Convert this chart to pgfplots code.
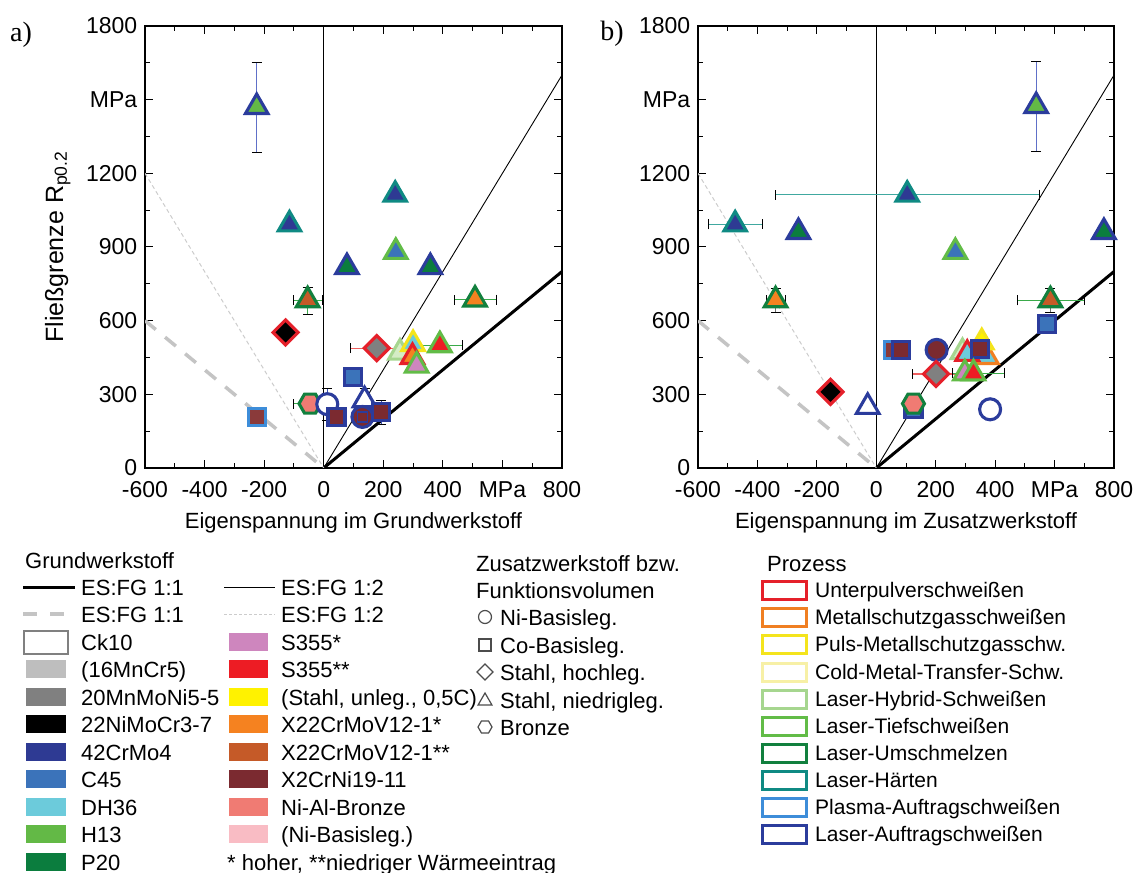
\documentclass[border=0pt]{standalone}
\usepackage{fontspec}
\setmainfont{Liberation Sans}
\newfontfamily\serifa{Liberation Serif}
\usepackage{pgfplots}
\pgfplotsset{compat=1.18}
\newcommand{\fz}{\fontsize{22bp}{26bp}\selectfont}
\newcommand{\ft}{\fontsize{23bp}{27bp}\selectfont}
\newcommand{\fp}{\fontsize{21bp}{24bp}\selectfont}
% base materials
\definecolor{cH13}{HTML}{63B946}
\definecolor{c42Cr}{HTML}{2E3A93}
\definecolor{cC45}{HTML}{3B73BA}
\definecolor{cDH36}{HTML}{6CCBDB}
\definecolor{cP20}{HTML}{0B7D3E}
\definecolor{cS355a}{HTML}{CE86BE}
\definecolor{cS355b}{HTML}{ED1C24}
\definecolor{cStahl}{HTML}{FFF200}
\definecolor{cX22a}{HTML}{F58220}
\definecolor{cX22b}{HTML}{C55A28}
\definecolor{cX2Cr}{HTML}{7B2A30}
\definecolor{cX2Crl}{HTML}{8A3A3A}
\definecolor{cNiAl}{HTML}{F07B73}
\definecolor{cNiB}{HTML}{F9BCC4}
\definecolor{c16Mn}{HTML}{BEBEBE}
\definecolor{c20Mn}{HTML}{808080}
\definecolor{c22Ni}{HTML}{000000}
\definecolor{cHybFill}{HTML}{D5ECC5}
% processes
\definecolor{pUP}{HTML}{E5202A}
\definecolor{pMSG}{HTML}{F07F22}
\definecolor{pPuls}{HTML}{F4E41C}
\definecolor{pCMT}{HTML}{F7F0A6}
\definecolor{pHyb}{HTML}{A6D68F}
\definecolor{pTief}{HTML}{62BC47}
\definecolor{pUm}{HTML}{12803E}
\definecolor{pHaert}{HTML}{0F8A83}
\definecolor{pPlas}{HTML}{3D8DD9}
\definecolor{pLAuf}{HTML}{2B3C9C}
% error bars / lines
\definecolor{eBlue}{HTML}{6070C8}
\definecolor{eBlue2}{HTML}{3A4FB0}
\definecolor{eTeal}{HTML}{40A8A0}
\definecolor{eGreen}{HTML}{3AAA4A}
\definecolor{eRed}{HTML}{F06060}
\definecolor{eGray}{HTML}{707070}
\definecolor{cDash}{HTML}{C4C4C4}
\definecolor{cDot}{HTML}{CCCCCC}

\pgfdeclareplotmark{hexagon*}{%
 \pgfpathmoveto{\pgfqpoint{\pgfplotmarksize}{0pt}}%
 \pgfpathlineto{\pgfqpoint{0.5\pgfplotmarksize}{0.866\pgfplotmarksize}}%
 \pgfpathlineto{\pgfqpoint{-0.5\pgfplotmarksize}{0.866\pgfplotmarksize}}%
 \pgfpathlineto{\pgfqpoint{-\pgfplotmarksize}{0pt}}%
 \pgfpathlineto{\pgfqpoint{-0.5\pgfplotmarksize}{-0.866\pgfplotmarksize}}%
 \pgfpathlineto{\pgfqpoint{0.5\pgfplotmarksize}{-0.866\pgfplotmarksize}}%
 \pgfpathclose\pgfusepathqfillstroke}
\pgfdeclareplotmark{dia*}{%
 \pgfpathmoveto{\pgfqpoint{0pt}{\pgfplotmarksize}}%
 \pgfpathlineto{\pgfqpoint{\pgfplotmarksize}{0pt}}%
 \pgfpathlineto{\pgfqpoint{0pt}{-\pgfplotmarksize}}%
 \pgfpathlineto{\pgfqpoint{-\pgfplotmarksize}{0pt}}%
 \pgfpathclose\pgfusepathqfillstroke}

\pgfplotsset{
  panel/.style={height=442bp, scale only axis,
    xmin=-600, xmax=800, ymin=0, ymax=1800,
    xtick={-600,-400,-200,0,200,400,600,800},
    xticklabels={-600,-400,-200,0,200,400,MPa,800},
    ytick={0,300,600,900,1200,1500,1800},
    yticklabels={0,300,600,900,1200,MPa,1800},
    minor x tick num=1, minor y tick num=1,
    tick align=inside, major tick length=8bp, minor tick length=5bp,
    every tick/.style={black, line width=1bp},
    axis line style={line width=1.2bp},
    tick label style={font=\ft, inner sep=1bp},
    xticklabel style={yshift=-12.5bp},
    yticklabel style={xshift=-6.6bp},
    label style={font=\fz},
    xlabel style={at={(axis description cs:0.5,-0.124)}, anchor=center},
    ylabel style={at={(axis description cs:-0.209,0.5)}, anchor=center, font=\fontsize{25bp}{28bp}\selectfont},
  },
  mk/.style 2 args={only marks, mark options={draw=#1, fill=#2, line width=3.1bp, solid}},
  tri/.style={mark=triangle*, mark size=13bp},
  sq/.style={mark=square*, mark size=8.5bp},
  dia/.style={mark=dia*, mark size=12.5bp},
  circ/.style={mark=*, mark size=10.5bp},
  hex/.style={mark=hexagon*, mark size=11bp},
  ebx/.style={only marks, mark=none, forget plot, error bars/.cd, x dir=both, x explicit,
    error bar style={line width=1.3bp, draw=#1, mark size=5bp}},
  eby/.style={only marks, mark=none, forget plot, error bars/.cd, y dir=both, y explicit,
    error bar style={line width=1.3bp, draw=#1, mark size=5bp}},
}

\begin{document}
\begin{tikzpicture}[x=1bp,y=1bp]
\useasboundingbox (0,0) rectangle (1136,873);

% ---------------- panel a ----------------
\begin{axis}[panel, width=417bp, at={(145bp,405bp)}, anchor=south west,
  xlabel={Eigenspannung im Grundwerkstoff},
  ylabel={Flie\ss grenze R\textsubscript{p0.2}}]
\addplot[black, line width=1bp] coordinates {(0,0) (0,1800)};
\addplot[black, line width=3bp] coordinates {(0,0) (800,800)};
\addplot[black, line width=0.9bp] coordinates {(0,0) (800,1600)};
\addplot[cDash, line width=3.5bp, dash pattern=on 14bp off 12bp] coordinates {(-600,600) (0,0)};
\addplot[cDot, line width=1bp, dash pattern=on 4bp off 3bp] coordinates {(-600,1200) (0,0)};
% error bars
\addplot[eby=eBlue] coordinates {(-225,1470) +- (0,182)};
\addplot[ebx=eTeal] coordinates {(-115,992) +- (20,0)};
\addplot[eby=eTeal] coordinates {(240,1113) +- (0,20)};
\addplot[eby=black] coordinates {(78,818) +- (0,30)};
\addplot[eby=black] coordinates {(358,818) +- (0,30)};
\addplot[ebx=eGreen] coordinates {(-54,683) +- (50,0)};
\addplot[eby=eGreen] coordinates {(-54,683) +- (0,55)};
\addplot[ebx=eGreen] coordinates {(508,686) +- (71,0)};
\addplot[eby=eGray] coordinates {(508,686) +- (0,28)};
\addplot[ebx=eRed] coordinates {(178,488) +- (90,0)};
\addplot[ebx=eGreen] coordinates {(390,500) +- (75,0)};
\addplot[ebx=black] coordinates {(276,470) +- (35,0)};
\addplot[eby=black] coordinates {(276,470) +- (0,22)};
\addplot[ebx=eGreen] coordinates {(-46,262) +- (55,0)};
\addplot[eby=eBlue2] coordinates {(12,260) +- (0,64)};
\addplot[eby=eBlue2] coordinates {(137,276) +- (0,48)};
\addplot[eby=eBlue2] coordinates {(193,228) +- (0,50)};
% markers
\addplot[mk={pLAuf}{cH13}, tri] coordinates {(-225,1470)};
\addplot[mk={pHaert}{c42Cr}, tri] coordinates {(-115,992)};
\addplot[mk={pHaert}{c42Cr}, tri] coordinates {(240,1113)};
\addplot[mk={pTief}{cC45}, tri] coordinates {(242,880)};
\addplot[mk={pLAuf}{cP20}, tri] coordinates {(78,818)};
\addplot[mk={pLAuf}{cP20}, tri] coordinates {(358,818)};
\addplot[mk={pUm}{cX22b}, tri] coordinates {(-54,683)};
\addplot[mk={pUP}{c22Ni}, dia] coordinates {(-128,552)};
\addplot[mk={pUm}{cX22a}, tri] coordinates {(508,686)};
\addplot[mk={pUP}{c20Mn}, dia] coordinates {(178,488)};
\addplot[mk={pTief}{cS355b}, tri] coordinates {(390,500)};
\addplot[mk={pHyb}{cHybFill}, tri] coordinates {(256,470)};
\addplot[mk={pPuls}{cDH36}, tri] coordinates {(300,505)};
\addplot[mk={pUP}{cX22a}, tri] coordinates {(298,452)};
\addplot[mk={pTief}{cS355a}, tri] coordinates {(312,417)};
\addplot[mk={pLAuf}{cC45}, sq] coordinates {(99,372)};
\addplot[mk={pUm}{cNiAl}, hex] coordinates {(-46,262)};
\addplot[mk={pLAuf}{white}, circ] coordinates {(12,260)};
\addplot[mk={pPlas}{cX2Crl}, sq] coordinates {(-224,208)};
\addplot[mk={pLAuf}{cX2Cr}, sq] coordinates {(43,208)};
\addplot[mk={pLAuf}{white}, tri] coordinates {(137,276)};
\addplot[mk={pLAuf}{cX2Cr}, circ] coordinates {(130,208)};
\addplot[only marks, mark=square*, mark size=5bp, mark options={draw=pLAuf, fill=cX2Cr, line width=1.5bp}] coordinates {(130,208)};
\addplot[mk={pLAuf}{cX2Cr}, sq] coordinates {(193,228)};
\end{axis}

% ---------------- panel b ----------------
\begin{axis}[panel, width=416bp, at={(698bp,405bp)}, anchor=south west,
  xlabel={Eigenspannung im Zusatzwerkstoff}]
\addplot[black, line width=1bp] coordinates {(0,0) (0,1800)};
\addplot[black, line width=3bp] coordinates {(0,0) (800,800)};
\addplot[black, line width=0.9bp] coordinates {(0,0) (800,1600)};
\addplot[cDash, line width=3.5bp, dash pattern=on 14bp off 12bp] coordinates {(-600,600) (0,0)};
\addplot[cDot, line width=1bp, dash pattern=on 4bp off 3bp] coordinates {(-600,1200) (0,0)};
% error bars
\addplot[eby=eBlue] coordinates {(538,1474) +- (0,182)};
\addplot[ebx=eTeal] coordinates {(104,1113) +- (445,0)};
\addplot[ebx=eTeal] coordinates {(-475,992) +- (92,0)};
\addplot[ebx=eGreen] coordinates {(-339,683) +- (32,0)};
\addplot[eby=eGray] coordinates {(-339,683) +- (0,50)};
\addplot[ebx=eGreen] coordinates {(586,683) +- (112,0)};
\addplot[eby=eGray] coordinates {(586,683) +- (0,50)};
\addplot[ebx=eRed] coordinates {(201,383) +- (80,0)};
\addplot[ebx=black] coordinates {(330,475) +- (35,0)};
\addplot[eby=black] coordinates {(330,475) +- (0,25)};
\addplot[ebx=eGreen] coordinates {(344,385) +- (88,0)};
\addplot[ebx=eGreen] coordinates {(125,262) +- (18,0)};
% markers
\addplot[mk={pLAuf}{cH13}, tri] coordinates {(538,1474)};
\addplot[mk={pHaert}{c42Cr}, tri] coordinates {(104,1113)};
\addplot[mk={pHaert}{c42Cr}, tri] coordinates {(-475,992)};
\addplot[mk={pLAuf}{cP20}, tri] coordinates {(-262,961)};
\addplot[mk={pLAuf}{cP20}, tri] coordinates {(766,961)};
\addplot[mk={pTief}{cC45}, tri] coordinates {(266,880)};
\addplot[mk={pUm}{cX22a}, tri] coordinates {(-339,683)};
\addplot[mk={pUm}{cX22b}, tri] coordinates {(586,683)};
\addplot[mk={pLAuf}{cC45}, sq] coordinates {(574,588)};
\addplot[mk={pUP}{c22Ni}, dia] coordinates {(-154,310)};
\addplot[mk={pLAuf}{white}, tri] coordinates {(-29,249)};
\addplot[mk={pLAuf}{cC45}, sq] coordinates {(125,240)};
\addplot[mk={pUm}{cNiAl}, hex] coordinates {(125,262)};
\addplot[mk={pLAuf}{white}, circ] coordinates {(383,239)};
\addplot[mk={pPlas}{cX2Crl}, sq] coordinates {(56,481)};
\addplot[mk={pLAuf}{cX2Cr}, sq] coordinates {(84,481)};
\addplot[mk={pLAuf}{cX2Cr}, circ] coordinates {(203,481)};
\addplot[mk={pUP}{c20Mn}, dia] coordinates {(201,383)};
\addplot[mk={pHyb}{cHybFill}, tri] coordinates {(290,472)};
\addplot[mk={pMSG}{cDH36}, tri] coordinates {(372,452)};
\addplot[mk={pPuls}{cStahl}, tri] coordinates {(355,512)};
\addplot[mk={pUP}{cDH36}, tri] coordinates {(306,465)};
\addplot[mk={pLAuf}{cX2Cr}, sq] coordinates {(348,485)};
\addplot[mk={pTief}{cS355a}, tri] coordinates {(298,385)};
\addplot[mk={pTief}{cS355b}, tri] coordinates {(327,385)};
\end{axis}

\node[font=\serifa\fontsize{28bp}{30bp}\selectfont] at (21,838) {a)};
\node[font=\serifa\fontsize{28bp}{30bp}\selectfont] at (612,839) {b)};

% ---------------- legends ----------------
\begin{axis}[at={(0bp,0bp)}, anchor=south west, width=1136bp, height=873bp, scale only axis,
  xmin=0, xmax=1136, ymin=0, ymax=873, y dir=reverse, hide axis, clip=false]
% column 1: Grundwerkstoff
\node[anchor=base west, inner sep=0pt, font=\fz] at (axis cs:25,568) {Grundwerkstoff};
\addplot[black, line width=3bp] coordinates {(23,587) (75,587)};
\addplot[black, line width=1bp] coordinates {(224,587) (275,587)};
\addplot[cDash, line width=3.5bp, dash pattern=on 14bp off 13bp] coordinates {(23,614) (66,614)};
\addplot[cDot, line width=1bp, dash pattern=on 3bp off 2bp] coordinates {(224,614) (275,614)};
\addplot[draw=gray, line width=1.5bp, fill=white] coordinates {(24,631) (68,631) (68,654) (24,654)} -- cycle;
\addplot[fill=c16Mn, draw=none] coordinates {(26,660) (66,660) (66,678) (26,678)};
\addplot[fill=c20Mn, draw=none] coordinates {(26,688) (66,688) (66,706) (26,706)};
\addplot[fill=c22Ni, draw=none] coordinates {(26,715) (66,715) (66,733) (26,733)};
\addplot[fill=c42Cr, draw=none] coordinates {(26,743) (66,743) (66,761) (26,761)};
\addplot[fill=cC45, draw=none] coordinates {(26,770) (66,770) (66,788) (26,788)};
\addplot[fill=cDH36, draw=none] coordinates {(26,798) (66,798) (66,816) (26,816)};
\addplot[fill=cH13, draw=none] coordinates {(26,825) (66,825) (66,843) (26,843)};
\addplot[fill=cP20, draw=none] coordinates {(26,853) (66,853) (66,871) (26,871)};
\addplot[fill=cS355a, draw=none] coordinates {(229,633) (268,633) (268,651) (229,651)};
\addplot[fill=cS355b, draw=none] coordinates {(229,660) (268,660) (268,678) (229,678)};
\addplot[fill=cStahl, draw=none] coordinates {(229,688) (268,688) (268,706) (229,706)};
\addplot[fill=cX22a, draw=none] coordinates {(229,715) (268,715) (268,733) (229,733)};
\addplot[fill=cX22b, draw=none] coordinates {(229,743) (268,743) (268,761) (229,761)};
\addplot[fill=cX2Cr, draw=none] coordinates {(229,770) (268,770) (268,788) (229,788)};
\addplot[fill=cNiAl, draw=none] coordinates {(229,798) (268,798) (268,816) (229,816)};
\addplot[fill=cNiB, draw=none] coordinates {(229,825) (268,825) (268,843) (229,843)};
\begin{scope}[every node/.style={anchor=base west, inner sep=0pt, font=\fz}]
\node at (axis cs:81,595) {ES:FG 1:1};
\node at (axis cs:81,622) {ES:FG 1:1};
\node at (axis cs:81,650) {Ck10};
\node at (axis cs:81,677) {(16MnCr5)};
\node at (axis cs:81,705) {20MnMoNi5-5};
\node at (axis cs:81,732) {22NiMoCr3-7};
\node at (axis cs:81,760) {42CrMo4};
\node at (axis cs:81,787) {C45};
\node at (axis cs:81,815) {DH36};
\node at (axis cs:81,842) {H13};
\node at (axis cs:81,870) {P20};
\node at (axis cs:281,595) {ES:FG 1:2};
\node at (axis cs:281,622) {ES:FG 1:2};
\node at (axis cs:281,650) {S355*};
\node at (axis cs:281,677) {S355**};
\node at (axis cs:281,705) {(Stahl, unleg., 0,5C)};
\node at (axis cs:281,732) {X22CrMoV12-1*};
\node at (axis cs:281,760) {X22CrMoV12-1**};
\node at (axis cs:281,787) {X2CrNi19-11};
\node at (axis cs:281,815) {Ni-Al-Bronze};
\node at (axis cs:281,842) {(Ni-Basisleg.)};
\node at (axis cs:227,870) {* hoher, **niedriger W\"armeeintrag};
% column 2
\node at (axis cs:476,571) {Zusatzwerkstoff bzw.};
\node at (axis cs:476,598) {Funktionsvolumen};
\node at (axis cs:500,625) {Ni-Basisleg.};
\node at (axis cs:500,653) {Co-Basisleg.};
\node at (axis cs:500,680) {Stahl, hochleg.};
\node at (axis cs:500,708) {Stahl, niedrigleg.};
\node at (axis cs:500,735) {Bronze};
\end{scope}
\begin{scope}[every node/.style={anchor=base west, inner sep=0pt, font=\fp}]
% column 3
\node[font=\fz] at (axis cs:767,571) {Prozess};
\node at (axis cs:815,597) {Unterpulverschwei\ss en};
\node at (axis cs:815,624) {Metallschutzgasschwei\ss en};
\node at (axis cs:815,651) {Puls-Metallschutzgasschw.};
\node at (axis cs:815,679) {Cold-Metal-Transfer-Schw.};
\node at (axis cs:815,706) {Laser-Hybrid-Schwei\ss en};
\node at (axis cs:815,733) {Laser-Tiefschwei\ss en};
\node at (axis cs:815,760) {Laser-Umschmelzen};
\node at (axis cs:815,787) {Laser-H\"arten};
\node at (axis cs:815,814) {Plasma-Auftragschwei\ss en};
\node at (axis cs:815,841) {Laser-Auftragschwei\ss en};
\end{scope}
% column 2 markers
\addplot[only marks, mark=o, mark size=6.5bp, mark options={draw=black!70, line width=1.2bp}] coordinates {(485,617)};
\addplot[only marks, mark=square, mark size=6bp, mark options={draw=black!70, line width=1.2bp}] coordinates {(485,645)};
\addplot[only marks, mark=dia*, mark size=8bp, mark options={draw=black!70, fill=white, line width=1.2bp}] coordinates {(485,672)};
\addplot[only marks, mark=triangle, mark size=8bp, mark options={draw=black!70, line width=1.2bp}] coordinates {(485,701)};
\addplot[only marks, mark=hexagon*, mark size=7bp, mark options={draw=black!70, fill=white, line width=1.2bp}] coordinates {(485,727)};
% column 3 swatches
\addplot[draw=pUP, line width=3bp, fill=white] coordinates {(762,581) (806,581) (806,599) (762,599)} -- cycle;
\addplot[draw=pMSG, line width=3bp, fill=white] coordinates {(762,608) (806,608) (806,626) (762,626)} -- cycle;
\addplot[draw=pPuls, line width=3bp, fill=white] coordinates {(762,635) (806,635) (806,653) (762,653)} -- cycle;
\addplot[draw=pCMT, line width=3bp, fill=white] coordinates {(762,663) (806,663) (806,681) (762,681)} -- cycle;
\addplot[draw=pHyb, line width=3bp, fill=white] coordinates {(762,690) (806,690) (806,708) (762,708)} -- cycle;
\addplot[draw=pTief, line width=3bp, fill=white] coordinates {(762,717) (806,717) (806,735) (762,735)} -- cycle;
\addplot[draw=pUm, line width=3bp, fill=white] coordinates {(762,744) (806,744) (806,762) (762,762)} -- cycle;
\addplot[draw=pHaert, line width=3bp, fill=white] coordinates {(762,771) (806,771) (806,789) (762,789)} -- cycle;
\addplot[draw=pPlas, line width=3bp, fill=white] coordinates {(762,798) (806,798) (806,816) (762,816)} -- cycle;
\addplot[draw=pLAuf, line width=3bp, fill=white] coordinates {(762,825) (806,825) (806,843) (762,843)} -- cycle;
\end{axis}
\end{tikzpicture}
\end{document}
